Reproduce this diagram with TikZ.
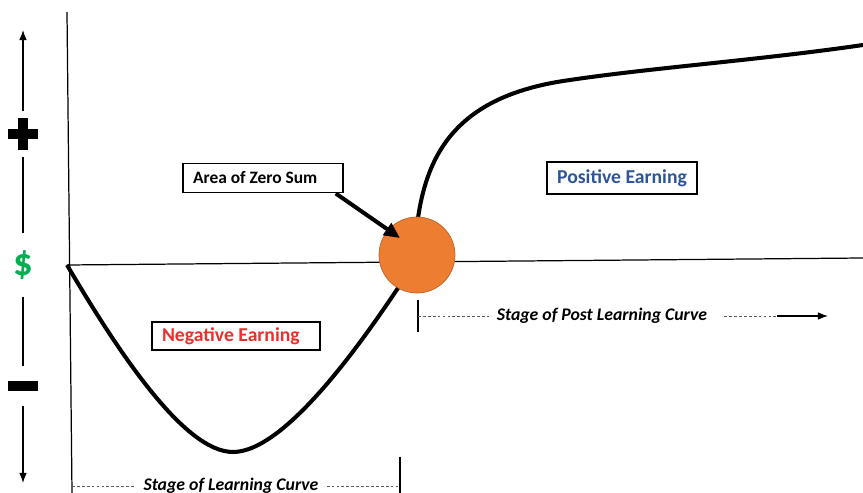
\documentclass[tikz,border=0pt]{standalone}
\usepackage{fontspec}
\setmainfont{Carlito}
\usetikzlibrary{arrows.meta}

\definecolor{zsorange}{HTML}{ED7D31}
\definecolor{posblue}{HTML}{2F5597}
\definecolor{negred}{HTML}{E8302F}
\definecolor{gain}{HTML}{00B050}

\begin{document}
\begin{tikzpicture}[>=Latex,x=0.02cm,y=-0.02cm,
  tagbox/.style={draw,line width=1.1pt,inner ysep=0pt,inner xsep=0.2cm,font=\bfseries},
  stagelbl/.style={font=\fontsize{10.1}{11}\selectfont\bfseries\itshape,inner sep=4.5pt},
  stagedash/.style={gray!70!black,line width=0.4pt,dash pattern=on 1.6pt off 1.2pt}]
  \useasboundingbox (0,0) rectangle (863,493);
  % axes
  \coordinate (o) at (67,265);
  \draw[line width=0.7pt] (67,12) -- (72,493);
  \draw[line width=0.7pt] (o) -- (863,258);
  % money scale on the left
  \node[minimum width=0.6cm,minimum height=0.9cm] (plus) at (23,134) {};
  \node[minimum height=1.25cm,inner sep=0pt,text=gain,font=\fontsize{22}{24}\selectfont\bfseries] (dollar) at (23,265) {\$};
  \node[minimum width=0.6cm,minimum height=0.8cm] (minus) at (23,386) {};
  \coordinate (ytop) at (23,30);
  \coordinate (ybot) at (23,483);
  \fill (8,129) rectangle (38,139);
  \fill (18,118) rectangle (28,150);
  \fill (8,381) rectangle (38,391);
  \draw[->,line width=0.6pt] (plus) -- (ytop);
  \draw[line width=0.6pt] (plus.south) -- (dollar.north);
  \draw[line width=0.6pt] (dollar.south) -- (minus.north);
  \draw[->,line width=0.6pt] (minus) -- (ybot);
  % earning curve
  \draw[line width=2.3pt] (o)
    .. controls (120,355) and (185,452) .. (233,452)
    .. controls (285,452) and (362,342) .. (400,285)
    .. controls (410,268) and (414,240) .. (418,218)
    .. controls (428,150) and (460,95) .. (570,80)
    .. controls (650,68) and (760,60) .. (863,45);
  % zero sum point
  \node[circle,fill=zsorange,draw=zsorange!80!black,line width=0.4pt,minimum size=1.52cm] (zs) at (417,255) {};
  \coordinate (hit) at (400,238);
  % labels
  \node[tagbox,text width=2.8cm,align=flush left,minimum height=0.58cm,font=\fontsize{9.9}{11}\selectfont\bfseries] (area) at (263,178) {Area of Zero Sum};
  \node[tagbox,minimum width=3.0cm,minimum height=0.64cm,text=posblue,font=\fontsize{11.2}{12}\selectfont\bfseries] (pos) at (622,178) {Positive Earning};
  \node[tagbox,text width=2.96cm,align=flush left,minimum height=0.56cm,text=negred,font=\fontsize{11.2}{12}\selectfont\bfseries] (neg) at (236,336) {Negative Earning};
  \draw[line width=2.3pt,-{Triangle[length=9pt,width=8pt]}] (area.-12) -- (hit);
  % stages
  \node[stagelbl] (lc) at (231,486) {Stage of Learning Curve};
  \coordinate (lcl) at (72,486);
  \coordinate (lcr) at (400,486);
  \draw[line width=0.7pt] (400,457) -- (400,493);
  \draw[stagedash] (lcl) -- (lc.west);
  \draw[stagedash] (lc.east) -- (lcr);
  \node[stagelbl] (plc) at (602,316) {Stage of Post Learning Curve};
  \coordinate (plcl) at (418,316);
  \coordinate (plcm) at (777,316);
  \coordinate (plce) at (828,316);
  \draw[line width=0.7pt] (418,300) -- (418,332);
  \draw[stagedash] (plcl) -- (plc.west);
  \draw[stagedash,shorten <=5pt] (plc.east) -- (plcm);
  \draw[->,line width=0.6pt] (plcm) -- (plce);
\end{tikzpicture}
\end{document}
